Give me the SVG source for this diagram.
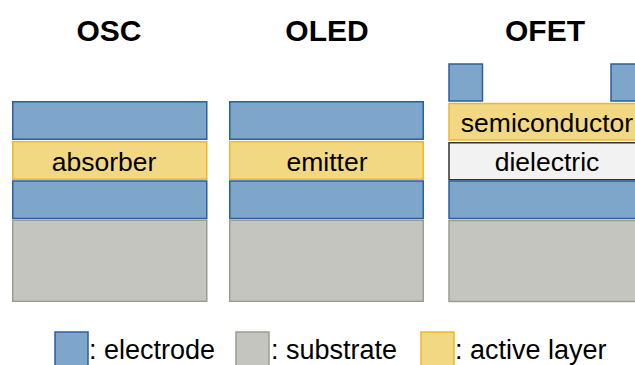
<svg xmlns="http://www.w3.org/2000/svg" width="635" height="365" viewBox="0 0 635 365">
  <style>
    .electrode { fill: #7ea6cb; stroke: #2b5f9e; stroke-width: 1.5; }
    .active { fill: #f2d883; stroke: #ebb92a; stroke-width: 1.5; }
    .substrate { fill: #c5c5bf; stroke: #9c9c95; stroke-width: 1.5; }
    .dielectric { fill: #f2f2f2; stroke: #333333; stroke-width: 1.5; }
    .title { font-family: "Liberation Sans", Arial, sans-serif; font-weight: bold; font-size: 30px; fill: #000; text-anchor: middle; }
    .label { font-family: "Liberation Sans", Arial, sans-serif; font-size: 26.5px; fill: #000; text-anchor: middle; }
    .legend { font-family: "Liberation Sans", Arial, sans-serif; font-size: 27px; fill: #000; }
  </style>

  <!-- Organic solar cell stack -->
  <g id="osc">
    <text class="title" x="109" y="41">OSC</text>
    <rect class="electrode" x="12.75" y="101.75" width="194" height="37.5"/>
    <rect class="active" x="12.75" y="141.75" width="194" height="37.5"/>
    <text class="label" x="104" y="171">absorber</text>
    <rect class="electrode" x="12.75" y="181" width="194" height="37.5"/>
    <rect class="substrate" x="12.75" y="220.25" width="194" height="81"/>
  </g>

  <!-- Organic light-emitting diode stack -->
  <g id="oled">
    <text class="title" x="327" y="41">OLED</text>
    <rect class="electrode" x="229.75" y="101.75" width="193.5" height="37.5"/>
    <rect class="active" x="229.75" y="141.75" width="193.5" height="37.5"/>
    <text class="label" x="327" y="171">emitter</text>
    <rect class="electrode" x="229.75" y="181" width="193.5" height="37.5"/>
    <rect class="substrate" x="229.75" y="220.25" width="193.5" height="81"/>
  </g>

  <!-- Organic field-effect transistor stack -->
  <g id="ofet">
    <text class="title" x="545" y="41">OFET</text>
    <rect class="electrode" x="449" y="64" width="33.5" height="37"/>
    <rect class="electrode" x="611" y="64" width="33.5" height="37"/>
    <rect class="active" x="449" y="103.5" width="194" height="36.5"/>
    <text class="label" x="547" y="132">semiconductor</text>
    <rect class="dielectric" x="449" y="142.75" width="194" height="37"/>
    <text class="label" x="547" y="171">dielectric</text>
    <rect class="electrode" x="449" y="181" width="194" height="37.5"/>
    <rect class="substrate" x="449" y="220.5" width="194" height="81"/>
  </g>

  <!-- Legend -->
  <g id="legend">
    <rect class="electrode" x="55" y="332" width="33" height="40"/>
    <text class="legend" x="89" y="359">: electrode</text>
    <rect class="substrate" x="236" y="332" width="33" height="40"/>
    <text class="legend" x="271" y="359">: substrate</text>
    <rect class="active" x="421" y="332" width="33" height="40"/>
    <text class="legend" x="455" y="359">: active layer</text>
  </g>
</svg>
